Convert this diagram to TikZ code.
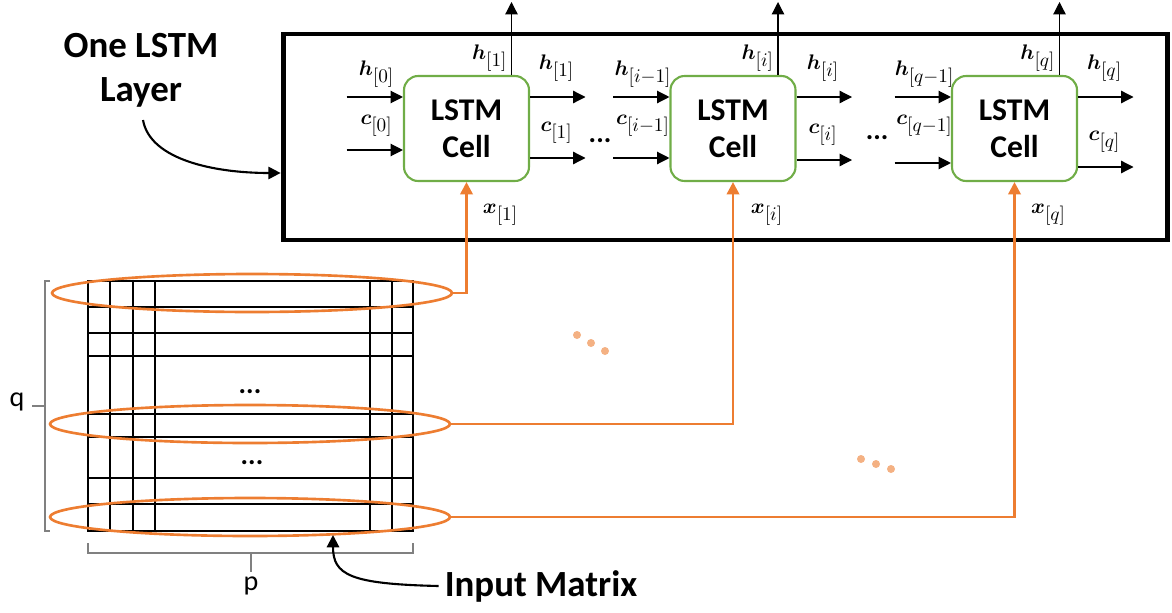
\documentclass[tikz,border=0pt]{standalone}
\usepackage{amsmath}
\usepackage{fontspec}
\setmainfont{Carlito}
\usetikzlibrary{arrows.meta,shapes.geometric}
\DeclareMathSizes{13}{13}{10.5}{7.5}

\definecolor{cellgreen}{HTML}{70AD47}
\definecolor{feedorange}{HTML}{ED7D31}
\definecolor{dotorange}{HTML}{F4B183}
\definecolor{bracegray}{HTML}{808080}

\begin{document}
\begin{tikzpicture}[
	x=0.02cm, y=-0.02cm,
	>={Triangle[length=7pt,width=7pt]},
	cell node/.style={draw=cellgreen, line width=1.2pt, rounded corners=8pt, minimum width=2.5cm, minimum height=2.1cm, align=center, inner sep=0pt, font=\fontsize{18}{21}\selectfont\bfseries},
	layer node/.style={draw, line width=2.8pt, minimum width=17.7cm, minimum height=4.12cm, inner sep=0pt},
	row node/.style={draw=feedorange, line width=1.5pt, ellipse, minimum width=8cm, minimum height=0.76cm, inner sep=0pt},
	in line/.style={->, line width=0.7pt},
	feed line/.style={->, draw=feedorange, line width=1.5pt},
	curve line/.style={->, line width=1.2pt},
	grid line/.style={line width=0.6pt},
	brace line/.style={draw=bracegray, line width=0.8pt},
	math node/.style={font=\fontsize{13}{15}\selectfont, inner sep=1pt},
	title node/.style={font=\fontsize{21}{25}\selectfont\bfseries, align=center},
	side node/.style={font=\fontsize{16}{19}\selectfont},
	dots node/.style={font=\fontsize{16}{19}\selectfont\bfseries, inner sep=0pt, anchor=base}
	]
	\useasboundingbox (0,0) rectangle (1172,612);
	\newcommand{\drawcell}[5]{
		\node[cell node] (#1) at (0,128.5) {LSTM\\Cell};
		\coordinate (#1hin) at (-120,97);
		\coordinate (#1cin) at (-120,#4);
		\coordinate (#1hout) at (119,97);
		\coordinate (#1cout) at (119,#5);
		\coordinate (#1up) at (45,2);
		
		\draw[in line] (#1hin) -- (#1hin -| #1.west);
		\draw[in line] (#1cin) -- (#1cin -| #1.west);
		\draw[in line] (#1hout -| #1.east) -- (#1hout);
		\draw[in line] (#1cout -| #1.east) -- (#1cout);
		\draw[in line] (#1up |- #1.north) -- (#1up);
		
		\node[math node] (#1hinlabel) at (-90,74) {$\boldsymbol{h}_{[#2]}$};
		\node[math node] (#1cinlabel) at (-90,126) {$\boldsymbol{c}_{[#2]}$};
		\node[math node, anchor=east] (#1uplabel) at (43,58) {$\boldsymbol{h}_{[#3]}$};
		\node[math node] (#1houtlabel) at (90,68) {$\boldsymbol{h}_{[#3]}$};
		\node[math node] (#1coutlabel) at (90,#5-25) {$\boldsymbol{c}_{[#3]}$};
		\node[math node] (#1xlabel) at (34,215) {$\boldsymbol{x}_{[#3]}$};
	}
	% the layer
	\node[layer node] (layer) at (725.5,137) {};
	\node[title node] (layerlabel) at (141,70) {One LSTM\\Layer};
	\draw[curve line] (143,120) .. controls (150,160) and (215,173) .. ([yshift=-0.72cm]layer.west);
	
	\begin{scope}[shift={(466.5,0)}]
		\drawcell{cell1}{0}{1}{150}{158}
	\end{scope}
	\begin{scope}[shift={(733,0)}]
		\drawcell{cell2}{i-1}{i}{158}{160}
	\end{scope}
	\begin{scope}[shift={(1014.5,0)}]
		\drawcell{cell3}{q-1}{q}{163}{167}
	\end{scope}
	\node[dots node] (dots12) at (600,142) {...};
	\node[dots node] (dots23) at (877,139) {...};
	
	% input matrix
	\foreach \gx in {110,133,155,370,392}
		\draw[grid line] (\gx,281) -- (\gx,531);
	\foreach \gy in {307,333,356,414,437,478,504}
		\draw[grid line] (88,\gy) -- (413,\gy);
	\draw[line width=1.2pt] (88,281) rectangle (413,531);
	\node[dots node] (rowdots1) at (250,393) {...};
	\node[dots node] (rowdots2) at (252,464) {...};
	
	\draw[brace line] (50,281) -- (45,281) -- (45,531) -- (50,531);
	\draw[brace line] (45,406) -- (32,406);
	\node[side node] (qlabel) at (17,402) {q};
	\draw[brace line] (88,543) -- (88,553) -- (413,553) -- (413,543);
	\draw[brace line] (251,553) -- (251,572);
	\node[side node] (plabel) at (251,586) {p};
	
	\node[row node] (row1) at (252,293) {};
	\node[row node] (rowi) at (250,424) {};
	\node[row node] (rowq) at (250,517) {};
	\draw[feed line] (row1.east) -| (cell1.south);
	\draw[feed line] (rowi.east) -| (cell2.south);
	\draw[feed line] (rowq.east) -| (cell3.south);
	\foreach \dx/\dy in {577/335,591/343,605/351,861/459,876/464,891/469}
		\fill[dotorange] (\dx,\dy) circle (4);
	
	\node[title node] (matrixlabel) at (541,586) {Input Matrix};
	\coordinate (matrixbottom) at (333,535);
	\draw[curve line] (matrixlabel.west) .. controls (350,584) and (333,575) .. (matrixbottom);
\end{tikzpicture}
\end{document}
